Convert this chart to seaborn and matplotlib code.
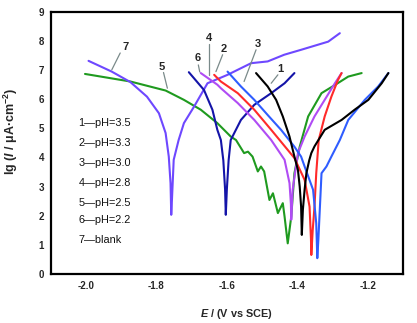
import matplotlib
matplotlib.use("Agg")
import matplotlib.pyplot as plt
import seaborn as sns
import pandas as pd

# ---- data ----
E_1 = [-1.517, -1.484, -1.460, -1.441, -1.422, -1.408, -1.398, -1.393, -1.389, -1.387,
       -1.384, -1.379, -1.374, -1.366, -1.360, -1.351, -1.322, -1.274, -1.237, -1.198, -1.160, -1.141]
LG_1 = [6.90, 6.44, 5.98, 5.41, 4.72, 4.03, 3.57, 3.00, 2.31, 1.34,
        2.20, 2.90, 3.46, 3.90, 4.15, 4.38, 4.95, 5.29, 5.64, 5.98, 6.55, 6.90]

E_2 = [-1.636, -1.617, -1.569, -1.522, -1.474, -1.427, -1.408, -1.379, -1.365, -1.361, -1.360,
       -1.356, -1.351, -1.346, -1.339, -1.322, -1.303, -1.284, -1.274]
LG_2 = [6.84, 6.61, 6.21, 5.64, 4.95, 4.26, 3.98, 3.23, 2.31, 1.20, 0.65,
        1.51, 2.31, 3.46, 4.60, 5.41, 6.09, 6.67, 6.90]

E_3 = [-1.598, -1.560, -1.522, -1.484, -1.446, -1.408, -1.389, -1.379, -1.355, -1.346, -1.343,
       -1.340, -1.331, -1.317, -1.303, -1.279, -1.255, -1.208, -1.170, -1.141]
LG_3 = [6.95, 6.44, 5.98, 5.46, 4.95, 4.37, 4.03, 3.69, 2.89, 1.74, 0.54,
        1.17, 3.46, 3.69, 4.03, 4.60, 5.29, 5.98, 6.44, 6.90]

E_4 = [-1.674, -1.627, -1.617, -1.569, -1.522, -1.474, -1.455, -1.436, -1.422, -1.418, -1.417,
       -1.413, -1.398, -1.379, -1.351, -1.322, -1.293, -1.274]
LG_4 = [6.90, 6.50, 6.38, 5.87, 5.29, 4.60, 4.26, 3.92, 3.12, 2.40, 1.86,
        2.89, 4.15, 4.72, 5.41, 5.98, 6.55, 6.90]

E_5 = [-2.003, -1.874, -1.774, -1.722, -1.674, -1.627, -1.589, -1.574, -1.551, -1.540, -1.527,
       -1.512, -1.503, -1.494, -1.479, -1.469, -1.455, -1.441, -1.436, -1.427,
       -1.417, -1.408, -1.393, -1.369, -1.331, -1.293, -1.255, -1.217]
LG_5 = [6.87, 6.61, 6.30, 5.98, 5.64, 5.18, 4.72, 4.60, 4.15, 4.20, 4.03,
        3.52, 3.69, 3.52, 2.54, 2.77, 2.09, 2.43, 1.97, 1.05,
        1.97, 3.46, 4.37, 5.41, 6.21, 6.49, 6.78, 6.90]

E_6 = [-1.708, -1.665, -1.641, -1.627, -1.617, -1.610, -1.605, -1.603,
       -1.600, -1.595, -1.589, -1.560, -1.522, -1.474, -1.436, -1.408]
LG_6 = [6.93, 6.32, 5.64, 4.95, 4.60, 3.90, 2.90, 2.03,
        2.90, 3.90, 4.60, 5.29, 5.81, 6.21, 6.55, 6.90]

E_7 = [-1.993, -1.927, -1.874, -1.827, -1.793, -1.774, -1.765, -1.760, -1.758,
       -1.756, -1.751, -1.737, -1.722, -1.693, -1.655, -1.598, -1.531, -1.484,
       -1.437, -1.389, -1.312, -1.279]
LG_7 = [7.32, 6.95, 6.59, 6.09, 5.52, 4.84, 4.03, 3.12, 2.03,
        2.54, 3.92, 4.60, 5.18, 5.75, 6.55, 6.84, 7.24, 7.30,
        7.53, 7.70, 7.98, 8.27]

CURVE_IDS = ["1", "2", "3", "4", "5", "6", "7"]
LEGEND_TEXT = ["1\u2014pH=3.5", "2\u2014pH=3.3", "3\u2014pH=3.0", "4\u2014pH=2.8",
               "5\u2014pH=2.5", "6\u2014pH=2.2", "7\u2014blank"]
X_TICKS = [-2.0, -1.8, -1.6, -1.4, -1.2]
X_TICK_LABELS = ["-2.0", "-1.8", "-1.6", "-1.4", "-1.2"]
Y_TICKS = [0, 1, 2, 3, 4, 5, 6, 7, 8, 9]

# ---- style ----
sns.set_style("white")
plt.rcParams["font.family"] = ["Liberation Sans", "DejaVu Sans"]
plt.rcParams["mathtext.fontset"] = "custom"
plt.rcParams["mathtext.rm"] = "Liberation Sans:bold"
plt.rcParams["mathtext.it"] = "Liberation Sans:italic:bold"
plt.rcParams["mathtext.bf"] = "Liberation Sans:bold"

COLORS = {"1": "#000000", "2": "#ff2a2a", "3": "#2f5dff", "4": "#b04cf4",
          "5": "#1f9a1f", "6": "#1414a8", "7": "#6e48ff"}

fig = plt.figure(figsize=(4.17, 3.23), dpi=100)
ax = fig.add_axes([0.122, 0.152, 0.844, 0.811])

series = {"1": (E_1, LG_1), "2": (E_2, LG_2), "3": (E_3, LG_3), "4": (E_4, LG_4),
          "5": (E_5, LG_5), "6": (E_6, LG_6), "7": (E_7, LG_7)}
order = ["5", "7", "6", "4", "2", "3", "1"]
for cid in order:
    E, L = series[cid]
    df = pd.DataFrame({"E": E, "lg": L})
    sns.lineplot(data=df, x="E", y="lg", sort=False, estimator=None,
                 color=COLORS[cid], linewidth=1.5, ax=ax)

ax.set_xlim(-2.1, -1.1)
ax.set_ylim(0, 9)
ax.set_xticks(X_TICKS)
ax.set_xticklabels(X_TICK_LABELS)
ax.set_yticks(Y_TICKS)
for lab in ax.get_xticklabels() + ax.get_yticklabels():
    lab.set_fontweight("bold")
    lab.set_fontsize(7)
ax.tick_params(direction="in", length=4, width=1.5, color="black", pad=5)
for s in ax.spines.values():
    s.set_linewidth(1.6)
    s.set_color("black")

ax.set_xlabel(r"$E$ / (V vs SCE)", fontsize=7.8, fontweight="bold")
ax.set_ylabel(r"lg ($I$ / μA·cm$^{-2}$)", fontsize=9, fontweight="bold")
ax.xaxis.set_label_coords(0.527, -0.125)
ax.yaxis.set_label_coords(-0.088, 0.546)

# curve number labels with leader lines
label_pos = {"7": ((-1.889, 7.81), (-1.903, 7.59), (-1.927, 7.01)),
             "5": ((-1.786, 7.12), (-1.780, 6.92), (-1.769, 6.38)),
             "6": ((-1.684, 7.41), (-1.681, 7.18), (-1.677, 6.94)),
             "4": ((-1.651, 8.10), (-1.651, 7.90), (-1.651, 6.84)),
             "2": ((-1.608, 7.72), (-1.612, 7.53), (-1.631, 6.95)),
             "3": ((-1.511, 7.89), (-1.517, 7.70), (-1.551, 6.61)),
             "1": ((-1.449, 7.03), (-1.455, 6.84), (-1.474, 6.55))}
for cid in CURVE_IDS:
    (tx, ty), (l0x, l0y), (l1x, l1y) = label_pos[cid]
    ax.text(tx, ty, cid, fontsize=8, fontweight="bold", ha="center", va="center")
    ax.plot([l0x, l1x], [l0y, l1y], color="#7a8a8a", linewidth=0.9)

# legend text
leg_y = [5.18, 4.50, 3.81, 3.12, 2.44, 1.86, 1.17]
for t, yy in zip(LEGEND_TEXT, leg_y):
    ax.text(-2.022, yy, t, fontsize=7.8, ha="left", va="center", color="#111111")

fig.savefig("out.png", dpi=100, facecolor="white")
